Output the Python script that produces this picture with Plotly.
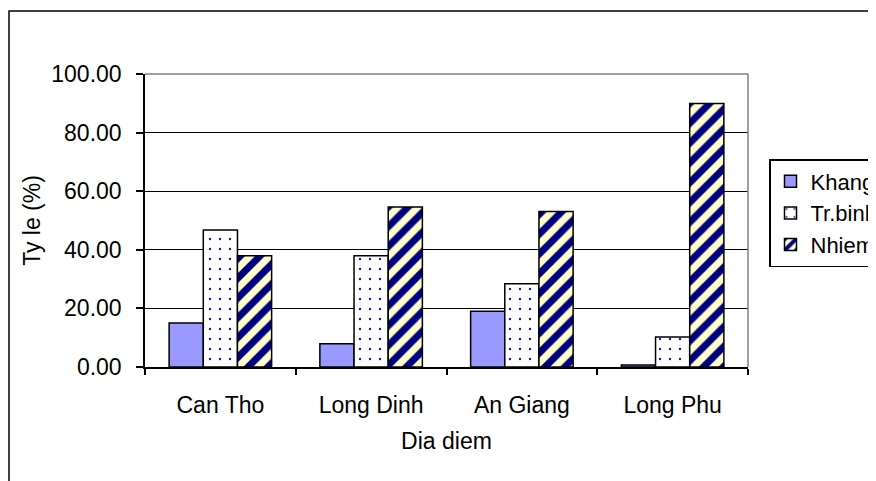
import plotly.graph_objects as go

categories = ["Can Tho", "Long Dinh", "An Giang", "Long Phu"]
khang = [15.0, 7.9, 19.0, 0.7]
trbinh = [46.8, 38.0, 28.4, 10.2]
nhiem = [38.0, 54.6, 53.1, 89.9]
y_ticks = [0, 20, 40, 60, 80, 100]

# page body has an 8px margin, so positions below are the reference's minus 8
OFF = 8
W, H = 876, 481
PL, PR, PT, PB = 145 - OFF, 748 - OFF, 74 - OFF, 367 - OFF
L, R, T, B = PL, W - PR, PT, H - PB
FONT = "Liberation Sans, Arial, sans-serif"
FS = 23

fig = go.Figure()
fig.add_trace(go.Bar(
    name="Khang", x=categories, y=khang,
    marker=dict(color="#9999FF", line=dict(color="black", width=1.5)),
))
fig.add_trace(go.Bar(
    name="Tr.binh", x=categories, y=trbinh,
    marker=dict(color="white", line=dict(color="black", width=1.5),
                pattern=dict(shape=".", fgcolor="#1a1a99", bgcolor="white",
                             size=10, solidity=0.045, fgopacity=1, fillmode="replace")),
))
fig.add_trace(go.Bar(
    name="Nhiem", x=categories, y=nhiem,
    marker=dict(color="#FFFFCC", line=dict(color="black", width=1.5),
                pattern=dict(shape="/", fgcolor="#000080", bgcolor="#FFFFCC",
                             size=14, solidity=0.5, fgopacity=1, fillmode="replace")),
))

pw = W - L - R
ph = H - T - B

def px_x(p):
    return (p - L) / pw

def px_y(p):
    return (H - B - p) / ph

shapes = [
    # outer chart border (extends beyond visible window)
    dict(type="rect", xref="paper", yref="paper",
         x0=px_x(9 - OFF), x1=px_x(950), y0=px_y(560), y1=px_y(11 - OFF),
         line=dict(color="black", width=1.5), layer="below"),
    # plot area top and right border in gray
    dict(type="line", xref="paper", yref="paper", x0=0, x1=1, y0=1, y1=1,
         line=dict(color="#808080", width=1.5), layer="above"),
    dict(type="line", xref="paper", yref="paper", x0=1, x1=1, y0=0, y1=1,
         line=dict(color="#808080", width=1.5), layer="above"),
]

fig.update_layout(
    width=W, height=H,
    margin=dict(l=L, r=R, t=T, b=B, autoexpand=False),
    paper_bgcolor="white", plot_bgcolor="white",
    font=dict(family=FONT, size=FS, color="black"),
    barmode="group", bargap=0.32, bargroupgap=0,
    shapes=shapes,
    legend=dict(
        xref="container", yref="container",
        x=(769 - OFF) / W, y=1 - (159 - OFF) / H, xanchor="left", yanchor="top",
        bgcolor="white", bordercolor="black", borderwidth=1.5,
        font=dict(family=FONT, size=22, color="black"),
        traceorder="normal",
    ),
    xaxis=dict(
        type="category", tickson="boundaries",
        ticks="outside", ticklen=6, tickwidth=1.5, tickcolor="black",
        showline=True, linecolor="black", linewidth=1.5,
        showgrid=False, ticklabelstandoff=17,
        title=dict(text="Dia diem", font=dict(size=FS), standoff=16),
        tickfont=dict(size=FS),
    ),
    yaxis=dict(
        range=[0, 100], tickvals=y_ticks, tickformat=".2f",
        ticks="outside", ticklen=7, tickwidth=1.5, tickcolor="black",
        showline=True, linecolor="black", linewidth=1.5,
        showgrid=True, gridcolor="black", gridwidth=1,
        zeroline=False, ticklabelstandoff=10,
        title=dict(text="Ty le (%)", font=dict(size=FS), standoff=4),
        tickfont=dict(size=FS),
    ),
)

fig.write_html("out.html")
